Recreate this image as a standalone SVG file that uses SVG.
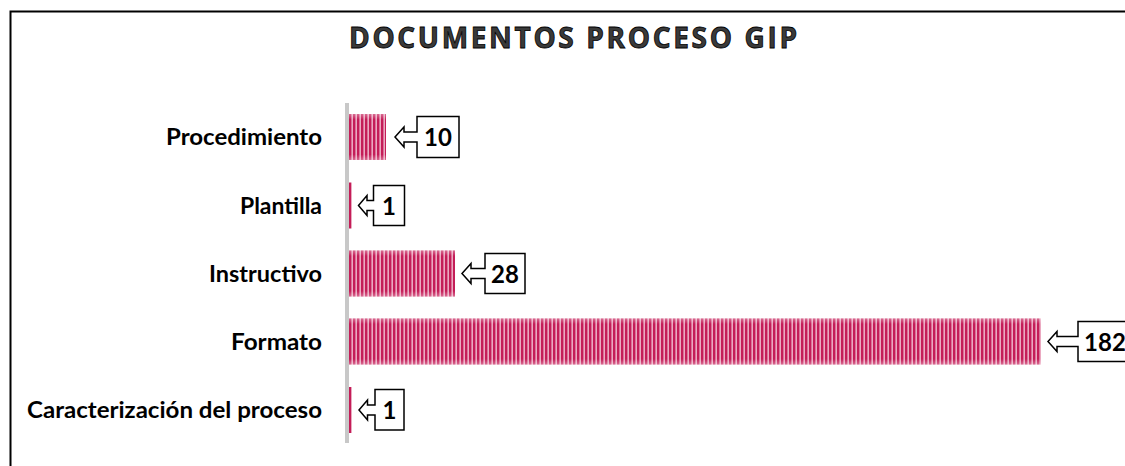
<svg xmlns="http://www.w3.org/2000/svg" width="1125" height="466" viewBox="0 0 1125 466">
<defs>
<pattern id="stripes" patternUnits="userSpaceOnUse" x="349" y="0" width="4" height="10">
<rect width="4" height="10" fill="#c41d58"/>
<rect x="2.4" width="1.6" height="10" fill="#eba9c1"/>
</pattern>
<linearGradient id="edge" x1="0" y1="0" x2="0" y2="1">
<stop offset="0" stop-color="#fff" stop-opacity="0.35"/>
<stop offset="0.12" stop-color="#fff" stop-opacity="0"/>
<stop offset="0.88" stop-color="#fff" stop-opacity="0"/>
<stop offset="1" stop-color="#fff" stop-opacity="0.35"/>
</linearGradient>
</defs>
<style>
.lbl{font-family:Lato,"Open Sans","Liberation Sans",sans-serif;font-weight:bold;font-size:22.5px;fill:#000;text-anchor:end}
.num{font-family:Lato,"Open Sans","Liberation Sans",sans-serif;font-weight:bold;font-size:24px;fill:#000;text-anchor:middle}
.bar{fill:url(#stripes)}
.shade{fill:url(#edge)}
.callout{fill:#fff;stroke:#000;stroke-width:1.5;stroke-linejoin:miter}
.title{font-family:"Open Sans","Liberation Sans",sans-serif;font-weight:bold;font-size:28px;fill:#3a3a3a;stroke:#000;stroke-width:0.8;text-anchor:middle}
</style>
<rect x="0" y="0" width="1125" height="466" fill="#fff"/>
<rect x="10.5" y="11.5" width="1200" height="500" fill="none" stroke="#000" stroke-width="2"/>
<text class="title" x="573" y="48" textLength="448" lengthAdjust="spacing">DOCUMENTOS PROCESO GIP</text>
<g id="axis">
<rect x="345" y="103" width="4" height="340" fill="#c8c8c8"/>
</g>
<g id="procedimiento">
<text class="lbl" x="322" y="145" textLength="156" lengthAdjust="spacingAndGlyphs">Procedimiento</text>
<rect class="bar" x="349" y="114" width="37" height="46"/>
<rect class="shade" x="349" y="114" width="37" height="46"/>
<path class="callout" d="M395,137 L404,127 L404,132 L417,132 L417,116.5 L459,116.5 L459,157.5 L417,157.5 L417,142 L404,142 L404,147 Z"/>
<text class="num" x="438" y="146">10</text>
</g>
<g id="plantilla">
<text class="lbl" x="322" y="213.5" textLength="82" lengthAdjust="spacingAndGlyphs">Plantilla</text>
<rect class="bar" x="349" y="182.5" width="2.6" height="46"/>
<path class="callout" d="M358.5,205.5 L367,195.5 L367,200.5 L373.5,200.5 L373.5,185.5 L404.5,185.5 L404.5,225.5 L373.5,225.5 L373.5,210.5 L367,210.5 L367,215.5 Z"/>
<text class="num" x="389" y="214.5">1</text>
</g>
<g id="instructivo">
<text class="lbl" x="322" y="281.5" textLength="113" lengthAdjust="spacingAndGlyphs">Instructivo</text>
<rect class="bar" x="349" y="250.5" width="106" height="46"/>
<rect class="shade" x="349" y="250.5" width="106" height="46"/>
<path class="callout" d="M462,273.5 L471,263.5 L471,268.5 L485,268.5 L485,253.5 L525,253.5 L525,293.5 L485,293.5 L485,278.5 L471,278.5 L471,283.5 Z"/>
<text class="num" x="505" y="282.5">28</text>
</g>
<g id="formato">
<text class="lbl" x="322" y="349.5" textLength="91" lengthAdjust="spacingAndGlyphs">Formato</text>
<rect class="bar" x="349" y="318.5" width="692" height="46"/>
<rect class="shade" x="349" y="318.5" width="692" height="46"/>
<path class="callout" d="M1048,341.5 L1057,331.5 L1057,336.5 L1078,336.5 L1078,321.5 L1130,321.5 L1130,361.5 L1078,361.5 L1078,346.5 L1057,346.5 L1057,351.5 Z"/>
<text class="num" x="1105" y="350.5">182</text>
</g>
<g id="caracterizacion">
<text class="lbl" x="322" y="418" textLength="295" lengthAdjust="spacingAndGlyphs">Caracterización del proceso</text>
<rect class="bar" x="349" y="387" width="2.6" height="46"/>
<path class="callout" d="M359,410 L367.5,400 L367.5,405 L375,405 L375,389.5 L404,389.5 L404,430 L375,430 L375,415 L367.5,415 L367.5,420 Z"/>
<text class="num" x="389.5" y="419">1</text>
</g>
</svg>
